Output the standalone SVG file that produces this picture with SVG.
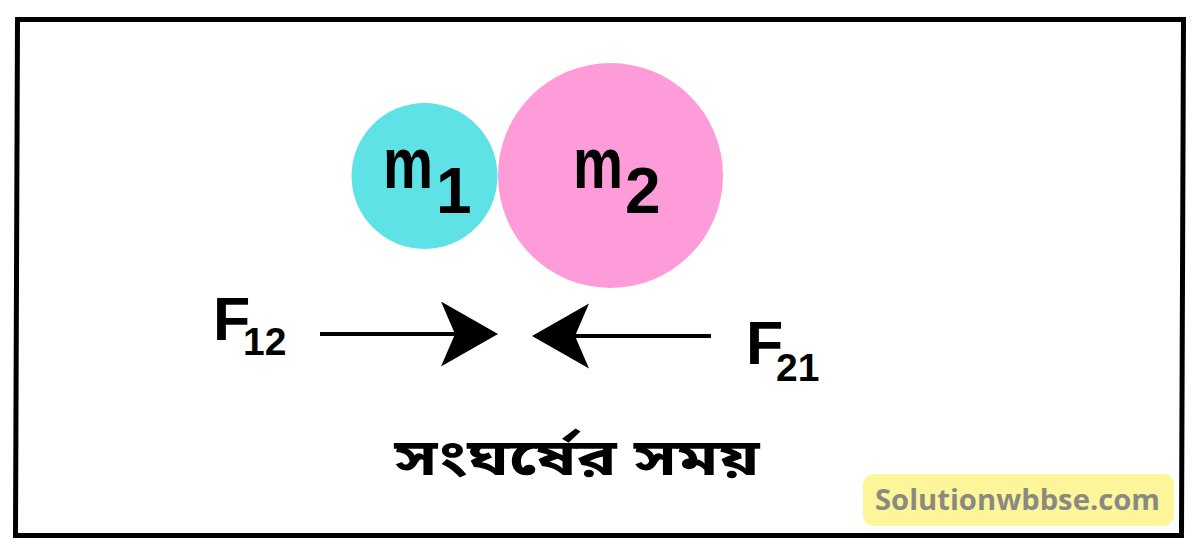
<svg xmlns="http://www.w3.org/2000/svg" width="1200" height="551" viewBox="0 0 1200 551">
<style>
.lbl{font-family:"Liberation Sans",Arial,sans-serif;font-weight:bold;fill:#000}
.bn{font-family:"Noto Sans Bengali","Noto Sans","Liberation Sans",sans-serif;font-weight:bold;fill:#000}
.wm{font-family:"Open Sans","Liberation Sans",sans-serif;font-weight:bold;fill:#8a8a80}
.conn{stroke:#000;stroke-width:4;fill:none}
</style>
<defs>
<marker id="head" markerUnits="userSpaceOnUse" markerWidth="60" markerHeight="66" viewBox="0 0 60 66" refX="29" refY="32.5" orient="auto">
<path d="M0,0 L57,32.5 L0,65 L14,32.5 Z" fill="#000"/>
</marker>
</defs>
<rect width="1200" height="551" fill="#fff"/>
<path d="M17.5,19.5 L1183.5,19.5 L1181.5,535.5 L15.5,535.5 Z" fill="none" stroke="#000" stroke-width="5"/>
<g id="node-m1">
<circle cx="424.5" cy="176" r="73" fill="#5ee2e6"/>
<text class="lbl" x="383" y="188" font-size="72"><tspan textLength="50" lengthAdjust="spacingAndGlyphs">m</tspan><tspan x="436" y="213" font-size="64">1</tspan></text>
</g>
<g id="node-m2">
<circle cx="610.5" cy="175.5" r="112.5" fill="#fe9bd9"/>
<text class="lbl" x="573" y="188" font-size="72"><tspan textLength="50" lengthAdjust="spacingAndGlyphs">m</tspan><tspan x="625" y="213" font-size="64">2</tspan></text>
</g>
<g id="node-F12">
<text class="lbl" x="213" y="340" font-size="61">F<tspan x="243" y="355" font-size="39">12</tspan></text>
</g>
<g id="node-F21">
<text class="lbl" x="746" y="364" font-size="61">F<tspan x="776" y="381" font-size="39">21</tspan></text>
</g>
<g id="connectors">
<line class="conn" x1="320" y1="334" x2="470" y2="334" marker-end="url(#head)"/>
<line class="conn" x1="711" y1="336" x2="560" y2="336" marker-end="url(#head)"/>
</g>
<g id="caption">
<text class="bn" x="577" y="475" font-size="50" text-anchor="middle" textLength="365" lengthAdjust="spacingAndGlyphs">সংঘর্ষের সময়</text>
</g>
<g id="watermark">
<rect x="863" y="474" width="311" height="52" rx="11" fill="#fdf59a"/>
<text class="wm" x="875" y="510" font-size="29" textLength="285" lengthAdjust="spacingAndGlyphs">Solutionwbbse.com</text>
</g>
</svg>
